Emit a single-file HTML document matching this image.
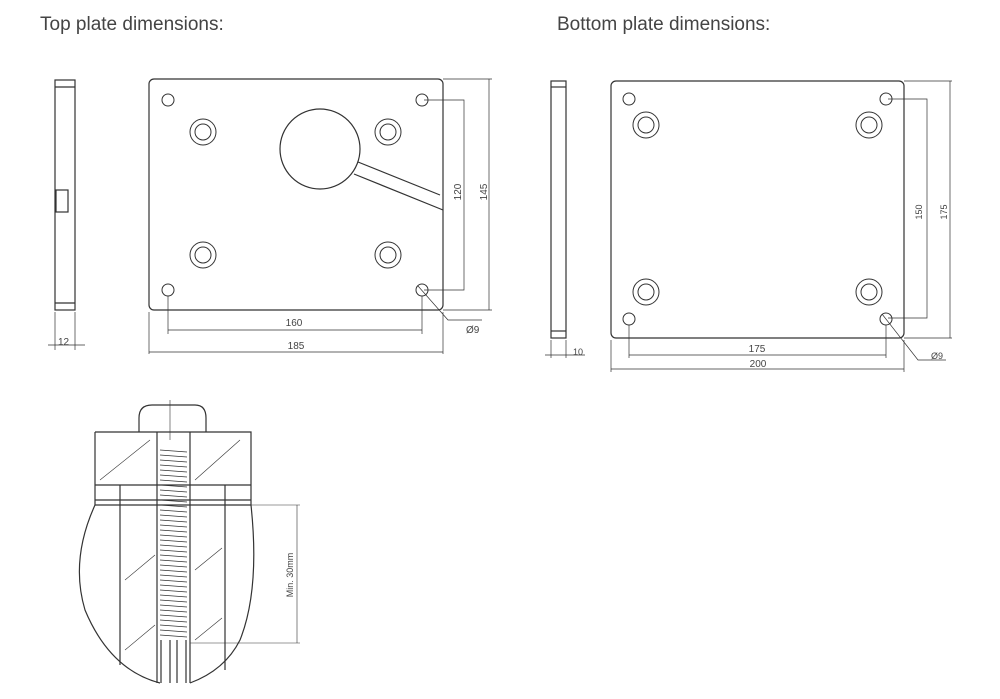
<!DOCTYPE html>
<html><head><style>
body{margin:0;background:#fff;width:1000px;height:694px;overflow:hidden}
.t{font-family:"Liberation Sans",sans-serif;fill:#444}
</style></head><body>
<svg width="1000" height="694" viewBox="0 0 1000 694" xmlns="http://www.w3.org/2000/svg">
<text x="40" y="30" class="t" font-size="19">Top plate dimensions:</text>
<text x="557" y="30" class="t" font-size="19">Bottom plate dimensions:</text>
<g fill="none" stroke="#333" stroke-width="1.2">
<!-- TOP side -->
<rect x="55" y="80" width="20" height="230"/>
<line x1="55" y1="87" x2="75" y2="87"/><line x1="55" y1="303" x2="75" y2="303"/>
<rect x="56" y="190" width="12" height="22"/>
<!-- TOP main -->
<rect x="149" y="79" width="294" height="231" rx="5"/>
<g stroke-width="1">
<circle cx="168" cy="100" r="6"/><circle cx="422" cy="100" r="6"/><circle cx="168" cy="290" r="6"/><circle cx="422" cy="290" r="6"/>
<circle cx="203" cy="132" r="13"/><circle cx="203" cy="132" r="8"/>
<circle cx="388" cy="132" r="13"/><circle cx="388" cy="132" r="8"/>
<circle cx="203" cy="255" r="13"/><circle cx="203" cy="255" r="8"/>
<circle cx="388" cy="255" r="13"/><circle cx="388" cy="255" r="8"/>
</g>
<circle cx="320" cy="149" r="40"/>
<path d="M358 162 L440 195 M354 174 L443 210" />
<g stroke-width="0.7">
<path d="M424 100 H464 V290 H424 M443 79 H492 M443 310 H492 M489 79 V310 M168 296 V334 M422 296 V334 M168 330 H422 M149 312 V354 M443 312 V354 M149 352 H443 M418 286 L448 320 H482 M48 345 H85 M55 312 V350 M75 312 V350"/>
</g>
<!-- BOTTOM side -->
<rect x="551" y="81" width="15" height="257"/>
<line x1="551" y1="87" x2="566" y2="87"/><line x1="551" y1="331" x2="566" y2="331"/>
<rect x="611" y="81" width="293" height="257" rx="5"/>
<g stroke-width="1">
<circle cx="629" cy="99" r="6"/><circle cx="886" cy="99" r="6"/><circle cx="629" cy="319" r="6"/><circle cx="886" cy="319" r="6"/>
<circle cx="646" cy="125" r="13"/><circle cx="646" cy="125" r="8"/>
<circle cx="869" cy="125" r="13"/><circle cx="869" cy="125" r="8"/>
<circle cx="646" cy="292" r="13"/><circle cx="646" cy="292" r="8"/>
<circle cx="869" cy="292" r="13"/><circle cx="869" cy="292" r="8"/>
</g>
<g stroke-width="0.7">
<path d="M888 99 H927 V318 H888 M904 81 H952 M904 338 H952 M950 81 V338 M629 325 V358 M886 325 V358 M629 355 H886 M611 340 V372 M904 340 V372 M611 369 H904 M882 314 L918 360 H946 M545 355 H585 M551 340 V358 M566 340 V358"/>
</g>
<!-- bolt drawing -->
<path d="M139 432 V418 Q139 405 152 405 H195 Q206 405 206 418 V432"/>
<path d="M95 432 H251 V505 M95 432 V505 M95 485 H251 M95 500 H251 M95 505 H251"/>
<path d="M95 505 Q70 560 85 610 Q110 670 160 683 M251 505 Q260 590 240 640 Q225 670 190 683"/>
<path d="M120 485 V505 M225 485 V505 M120 505 V665 M225 505 V670"/>
<path d="M157 432 V683 M190 432 V683 M161 640 V683 M186 640 V683 M170 640 V683 M177 640 V683"/>
<g stroke-width="0.6">
<path d="M100 480 L150 440 M195 480 L240 440 M125 580 L155 555 M125 650 L155 625 M195 570 L222 548 M195 640 L222 618 M170 400 V440"/>
<path d="M190 505 H300 M190 643 H300 M297 505 V643"/>
</g>
<g stroke-width="0.8">
<path d="M160 450 L187 452 M160 455 L187 457 M160 460 L187 462 M160 465 L187 467 M160 470 L187 472 M160 475 L187 477 M160 480 L187 482 M160 485 L187 487 M160 490 L187 492 M160 495 L187 497 M160 500 L187 502 M160 505 L187 507 M160 510 L187 512 M160 515 L187 517 M160 520 L187 522 M160 525 L187 527 M160 530 L187 532 M160 535 L187 537 M160 540 L187 542 M160 545 L187 547 M160 550 L187 552 M160 555 L187 557 M160 560 L187 562 M160 565 L187 567 M160 570 L187 572 M160 575 L187 577 M160 580 L187 582 M160 585 L187 587 M160 590 L187 592 M160 595 L187 597 M160 600 L187 602 M160 605 L187 607 M160 610 L187 612 M160 615 L187 617 M160 620 L187 622 M160 625 L187 627 M160 630 L187 632 M160 635 L187 637"/>
</g>
</g>
<g class="t" font-size="10">
<text x="294" y="326" text-anchor="middle">160</text>
<text x="296" y="349" text-anchor="middle">185</text>
<text x="58" y="345">12</text>
<text x="466" y="333">Ø9</text>
<text transform="translate(461,192) rotate(-90)" text-anchor="middle">120</text>
<text transform="translate(487,192) rotate(-90)" text-anchor="middle">145</text>
<text x="757" y="352" text-anchor="middle">175</text>
<text x="758" y="367" text-anchor="middle">200</text>
<text x="573" y="355" font-size="9">10</text>
<text x="931" y="359" font-size="9">Ø9</text>
<text transform="translate(922,212) rotate(-90)" text-anchor="middle" font-size="9">150</text>
<text transform="translate(947,212) rotate(-90)" text-anchor="middle" font-size="9">175</text>
<text transform="translate(293,575) rotate(-90)" text-anchor="middle" font-size="9">Min. 30mm</text>
</g>
</svg>
</body></html>
